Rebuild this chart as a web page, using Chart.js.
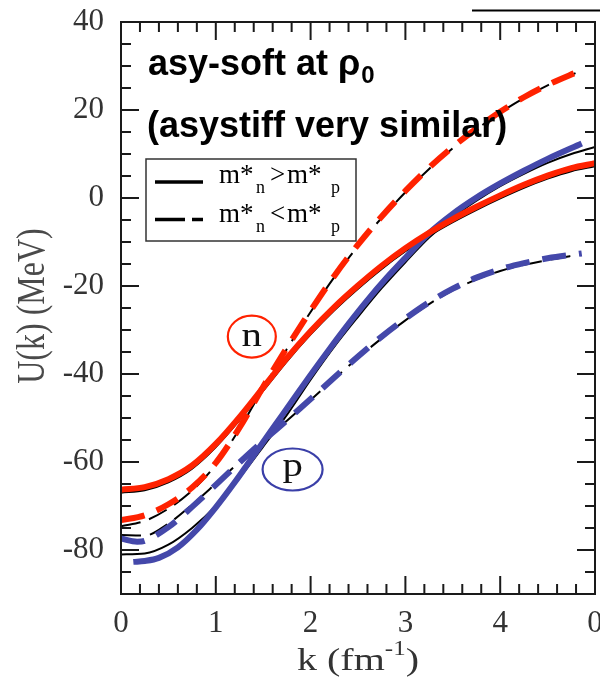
<!DOCTYPE html>
<html>
<head>
<meta charset="utf-8">
<script src="https://cdn.jsdelivr.net/npm/chart.js@4.4.1/dist/chart.umd.min.js"></script>
<style>
  html, body { margin: 0; padding: 0; background: #fff; }
  canvas { display: block; }
</style>
</head>
<body>
<canvas id="chart" width="600" height="677"></canvas>
<script>
// Single-particle potential U(k) (MeV) vs momentum k (fm^-1), asy-soft at rho0

// neutron, m*_n > m*_p (solid red)
const kNeutronSolid = [0, 0.25, 0.5, 0.75, 1, 1.25, 1.5, 1.75, 2, 2.25, 2.5, 2.75, 3, 3.25, 3.5, 3.75, 4, 4.25, 4.5, 4.75, 5];
const uNeutronSolid = [-66.3, -65.7, -63.9, -60.8, -55.9, -49.8, -43.1, -36.4, -30.3, -24.8, -19.9, -15.4, -11.4, -7.9, -4.8, -2.0, 0.6, 3.0, 5.1, 6.8, 7.9];

// neutron, m*_n < m*_p (dashed red)
const kNeutronDashed = [0, 0.25, 0.5, 0.75, 1, 1.25, 1.5, 1.75, 2, 2.25, 2.5, 2.75, 3, 3.25, 3.5, 3.75, 4, 4.25, 4.5, 4.84];
const uNeutronDashed = [-73.2, -72.1, -69.6, -65.8, -60.2, -52.2, -42.9, -34.0, -25.6, -17.7, -10.6, -4.2, 1.6, 6.9, 11.6, 15.8, 19.6, 22.9, 25.7, 28.9];

// proton, m*_n > m*_p (solid blue)
const kProtonSolid = [0.13, 0.25, 0.4, 0.6, 0.8, 1, 1.2, 1.4, 1.6, 1.8, 2, 2.2, 2.4, 2.6, 2.8, 3, 3.25, 3.5, 3.75, 4, 4.25, 4.5, 4.86];
const uProtonSolid = [-82.7, -82.5, -81.8, -79.4, -75.4, -70.3, -64.6, -58.5, -52.4, -46.3, -40.2, -34.3, -28.6, -23.2, -18.2, -13.6, -8.0, -3.6, 0.1, 3.3, 6.2, 8.9, 12.4];

// proton, m*_n < m*_p (dashed blue)
const kProtonDashed = [0, 0.17, 0.25, 0.5, 0.75, 1, 1.25, 1.5, 1.75, 2, 2.25, 2.5, 2.75, 3, 3.25, 3.5, 3.75, 4, 4.25, 4.5, 4.86];
const uProtonDashed = [-77.4, -78.1, -77.9, -74.8, -70.2, -65.2, -60.1, -55.2, -50.5, -45.7, -40.8, -36.0, -31.5, -27.4, -23.7, -20.6, -18.1, -16.2, -14.8, -13.7, -12.6];

// thin black companion curves
const kThinSolid = [0, 0.25, 0.5, 0.75, 1, 1.25, 1.5, 1.75, 2, 2.25, 2.5, 2.75, 3, 3.25, 3.5, 3.75, 4, 4.25, 4.5, 4.75, 5];
const uThinNeutronSolid = [-67.0, -66.4, -64.6, -61.5, -56.6, -50.5, -43.8, -37.1, -31.0, -25.5, -20.6, -16.1, -12.1, -8.6, -5.5, -2.7, -0.1, 2.3, 4.4, 6.1, 7.2];
const uThinProtonSolid = [-81.0, -80.8, -78.8, -75.0, -70.0, -63.6, -56.5, -49.3, -41.3, -33.8, -27.0, -20.5, -14.6, -9.0, -4.4, -0.6, 2.7, 5.5, 8.0, 10.0, 11.6];
const kThinDashed = [0, 0.25, 0.5, 0.75, 1, 1.25, 1.5, 1.75, 2, 2.25, 2.5, 2.75, 3, 3.25, 3.5, 3.75, 4, 4.25, 4.5, 4.85];
const uThinNeutronDashed = [-74.6, -73.4, -70.6, -66.5, -60.6, -52.5, -43.2, -34.3, -25.9, -18.0, -10.9, -4.5, 1.3, 6.6, 11.3, 15.6, 19.4, 22.7, 25.6, 28.9];
const uThinProtonDashed = [-76.6, -76.7, -74.0, -69.7, -64.9, -60.0, -55.2, -50.6, -45.9, -41.1, -36.3, -31.9, -27.8, -24.1, -21.0, -18.5, -16.6, -15.2, -14.1, -12.8];

// axis ticks
const xTickValues = [0, 1, 2, 3, 4, 5];
const xTickLabels = ['0', '1', '2', '3', '4', '0'];
const yTickValues = [-80, -60, -40, -20, 0, 20, 40];

const RED = '#ff2200';
const BLUE = '#4448aa';
const SERIF = '"Liberation Serif", "Times New Roman", serif';
const SANS = '"Liberation Sans", Arial, sans-serif';

const pts = (ks, us) => ks.map((k, i) => ({ x: k, y: us[i] }));

function curve(label, ks, us, color, width, dash, order) {
  return {
    label,
    data: pts(ks, us),
    borderColor: color,
    borderWidth: width,
    borderDash: dash,
    pointRadius: 0,
    fill: false,
    cubicInterpolationMode: 'monotone',
    borderCapStyle: 'butt',
    order
  };
}

// stretched text helper (plot lettering is slightly wide)
function wideText(ctx, str, x, y, sx) {
  ctx.save();
  ctx.translate(x, y);
  ctx.scale(sx, 1);
  ctx.fillText(str, 0, 0);
  ctx.restore();
}

const decor = {
  id: 'decor',
  afterDraw(chart) {
    const { ctx, chartArea: a, scales: { x, y } } = chart;
    ctx.save();

    // frame
    ctx.strokeStyle = '#1a1a1a';
    ctx.lineWidth = 2;
    ctx.strokeRect(a.left, a.top, a.right - a.left, a.bottom - a.top);

    // inward tick marks on all four sides
    ctx.beginPath();
    for (let i = 0; i <= 25; i++) {
      const px = x.getPixelForValue(i * 0.2);
      const len = i % 5 === 0 ? 18 : 10;
      ctx.moveTo(px, a.bottom); ctx.lineTo(px, a.bottom - len);
      ctx.moveTo(px, a.top); ctx.lineTo(px, a.top + len);
    }
    for (let v = -90; v <= 40; v += 5) {
      const py = y.getPixelForValue(v);
      const len = v % 20 === 0 ? 18 : 10;
      ctx.moveTo(a.left, py); ctx.lineTo(a.left + len, py);
      ctx.moveTo(a.right, py); ctx.lineTo(a.right - len, py);
    }
    ctx.stroke();

    // axis titles
    ctx.fillStyle = '#333';
    ctx.textBaseline = 'alphabetic';
    ctx.textAlign = 'left';
    const sx = 1.25;
    ctx.font = '32px ' + SERIF;
    const w1 = ctx.measureText('k (fm').width;
    ctx.font = '20px ' + SERIF;
    const w2 = ctx.measureText('-1').width;
    ctx.font = '32px ' + SERIF;
    const w3 = ctx.measureText(')').width;
    const total = (w1 + w2 + w3) * sx;
    let tx = (a.left + a.right) / 2 - total / 2;
    const ty = 670;
    wideText(ctx, 'k (fm', tx, ty, sx);
    tx += w1 * sx;
    ctx.font = '20px ' + SERIF;
    wideText(ctx, '-1', tx, ty - 15, sx);
    tx += w2 * sx;
    ctx.font = '32px ' + SERIF;
    wideText(ctx, ')', tx, ty, sx);

    ctx.save();
    ctx.fillStyle = '#4a4a4a';
    ctx.translate(33, 306);
    ctx.scale(1.25, 1);
    ctx.rotate(-Math.PI / 2);
    ctx.textAlign = 'center';
    ctx.textBaseline = 'middle';
    ctx.font = '32px ' + SERIF;
    ctx.fillText('U(k) (MeV)', 0, 0);
    ctx.restore();

    // headline annotations
    ctx.fillStyle = '#000';
    ctx.textAlign = 'left';
    ctx.textBaseline = 'alphabetic';
    ctx.font = 'bold 36px ' + SANS;
    const head = 'asy-soft at \u03c1';
    ctx.fillText(head, 148, 75);
    const hw = ctx.measureText(head).width;
    ctx.font = 'bold 24px ' + SANS;
    ctx.fillText('0', 148 + hw + 1, 83);
    ctx.font = 'bold 36px ' + SANS;
    ctx.fillText('(asystiff very similar)', 147, 137);

    // legend box
    ctx.strokeStyle = '#333';
    ctx.lineWidth = 1.5;
    ctx.strokeRect(146, 159, 210, 82);
    ctx.strokeStyle = '#000';
    ctx.lineWidth = 3.5;
    ctx.setLineDash([]);
    ctx.beginPath(); ctx.moveTo(155, 182); ctx.lineTo(203, 182); ctx.stroke();
    ctx.setLineDash([30, 7]);
    ctx.beginPath(); ctx.moveTo(155, 219.5); ctx.lineTo(203, 219.5); ctx.stroke();
    ctx.setLineDash([]);

    ctx.fillStyle = '#000';
    const rows = [{ rel: '>', base: 183 }, { rel: '<', base: 221.5 }];
    rows.forEach(r => {
      ctx.font = '27px ' + SERIF;
      ctx.fillText('m*', 219, r.base);
      ctx.fillText(r.rel, 270, r.base);
      ctx.fillText('m*', 287, r.base);
      ctx.font = '18px ' + SERIF;
      ctx.fillText('n', 256, r.base + 10);
      ctx.fillText('p', 331, r.base + 10);
    });

    // particle labels in ellipses
    const nx = x.getPixelForValue(1.38), ny = y.getPixelForValue(-31.5);
    const px = x.getPixelForValue(1.81), py = y.getPixelForValue(-61.7);
    ctx.lineWidth = 2.2;
    ctx.strokeStyle = RED;
    ctx.beginPath(); ctx.ellipse(nx, ny, 24, 21, 0, 0, Math.PI * 2); ctx.stroke();
    ctx.strokeStyle = '#3a3fa8';
    ctx.beginPath(); ctx.ellipse(px, py, 30, 21, 0, 0, Math.PI * 2); ctx.stroke();
    ctx.fillStyle = '#111';
    ctx.textAlign = 'center';
    ctx.font = '34px ' + SERIF;
    wideText(ctx, 'n', nx, ny + 9, 1.2);
    wideText(ctx, 'p', px, py + 7, 1.2);

    // rule at the top right
    ctx.strokeStyle = '#000';
    ctx.lineWidth = 2;
    ctx.beginPath(); ctx.moveTo(472, 10.5); ctx.lineTo(600, 10.5); ctx.stroke();

    ctx.restore();
  }
};

new Chart(document.getElementById('chart'), {
  type: 'line',
  data: {
    datasets: [
      curve('n, m*n > m*p', kNeutronSolid, uNeutronSolid, RED, 6, [], 1),
      curve('n, m*n < m*p', kNeutronDashed, uNeutronDashed, RED, 6, [24, 13], 1),
      curve('p, m*n > m*p', kProtonSolid, uProtonSolid, BLUE, 6, [], 1),
      curve('p, m*n < m*p', kProtonDashed, uProtonDashed, BLUE, 6, [24, 13], 1),
      curve('n thin solid', kThinSolid, uThinNeutronSolid, '#000', 2, [], 2),
      curve('p thin solid', kThinSolid, uThinProtonSolid, '#000', 2, [], 2),
      curve('n thin dashed', kThinDashed, uThinNeutronDashed, '#000', 2, [20, 9], 2),
      curve('p thin dashed', kThinDashed, uThinProtonDashed, '#000', 2, [20, 9], 2)
    ]
  },
  options: {
    responsive: false,
    devicePixelRatio: 1,
    animation: false,
    layout: { padding: { top: 22, right: 5, left: 0, bottom: 0 } },
    plugins: { legend: { display: false }, tooltip: { enabled: false } },
    scales: {
      x: {
        type: 'linear',
        min: 0,
        max: 5,
        afterBuildTicks: s => { s.ticks = xTickValues.map(v => ({ value: v })); },
        afterFit: s => { s.height = 83; s.paddingLeft = 0; s.paddingRight = 0; },
        ticks: {
          callback: (v, i) => xTickLabels[i],
          font: { family: SERIF, size: 31 },
          color: '#333',
          padding: 3,
          maxRotation: 0,
          autoSkip: false
        },
        grid: { display: false },
        border: { display: false }
      },
      y: {
        type: 'linear',
        min: -90,
        max: 40,
        afterBuildTicks: s => { s.ticks = yTickValues.map(v => ({ value: v })); },
        afterFit: s => { s.width = 121; s.paddingTop = 0; s.paddingBottom = 0; },
        ticks: {
          callback: v => String(v),
          font: { family: SERIF, size: 31 },
          color: '#333',
          padding: 9,
          autoSkip: false
        },
        grid: { display: false },
        border: { display: false }
      }
    }
  },
  plugins: [decor]
});
</script>
</body>
</html>
